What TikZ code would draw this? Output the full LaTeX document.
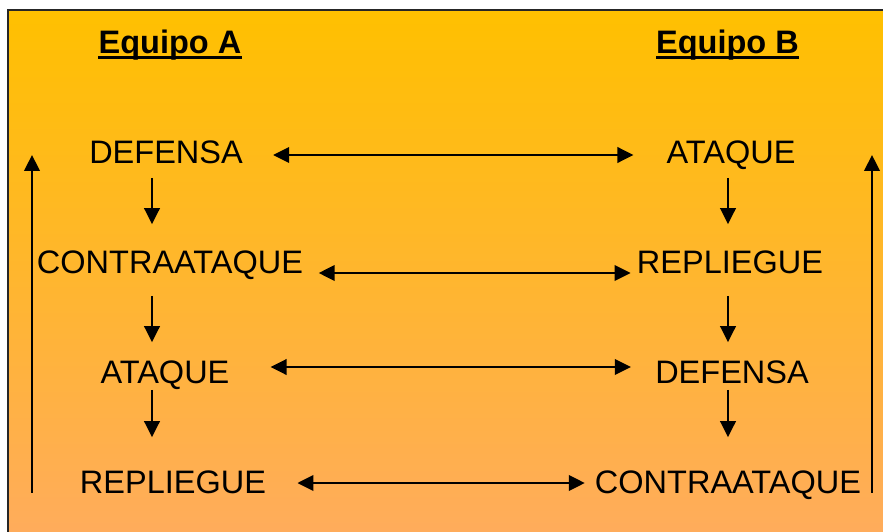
\documentclass[tikz,border=0pt]{standalone}
\usepackage{fontspec}
\setmainfont{Liberation Sans}
\usetikzlibrary{arrows.meta}

\definecolor{naranjaAlto}{RGB}{255,192,0}
\definecolor{naranjaBajo}{RGB}{255,172,92}

\begin{document}
\begin{tikzpicture}[x=1pt, y=1pt, node distance=110pt,
		>={Triangle[length=16pt,width=15.5pt]},
		etapa/.style={font=\fontsize{32.5}{38}\selectfont, inner sep=0pt, text height=23.3pt, text depth=0pt},
		equipo/.style={etapa, font=\fontsize{32.5}{38}\selectfont\bfseries},
		flecha/.style={->, line width=2.3pt},
		doble/.style={<->, line width=2.3pt}
		]
		\useasboundingbox (0,0) rectangle (883,531);
		\begin{scope}
		\clip (0,0) rectangle (883,531);
		\shade[top color=naranjaAlto, bottom color=naranjaBajo, draw=black!85, line width=2pt] (8,-5) rectangle (892,520.5);
		\end{scope}
		
		\node[equipo](tA) at (170,489){Equipo A};
		\node[equipo](tB) at (727.5,489){Equipo B};
		\draw[line width=3.3pt] ([yshift=-4pt]tA.south west) -- ([yshift=-4pt]tA.south east);
		\draw[line width=3.3pt] ([yshift=-4pt]tB.south west) -- ([yshift=-4pt]tB.south east);
		
		\node[etapa](dA) at (166,379){DEFENSA};
		\node[etapa, below of = dA, xshift = 4pt](cA){CONTRAATAQUE};
		\node[etapa, below of = cA, xshift = -5pt](aA){ATAQUE};
		\node[etapa, below of = aA, xshift = 8pt](rA){REPLIEGUE};
		
		\node[etapa](aB) at (731,379){ATAQUE};
		\node[etapa, below of = aB, xshift = -1pt](rB){REPLIEGUE};
		\node[etapa, below of = rB, xshift = 2pt](dB){DEFENSA};
		\node[etapa, below of = dB, xshift = -4pt](cB){CONTRAATAQUE};
		
		\coordinate (colA) at (152,0);
		\coordinate (colB) at (728,0);
		\coordinate (ladoA) at (32,0);
		\coordinate (ladoB) at (872,0);
		
		% secuencia de cada equipo
		\draw[flecha, shorten <=14pt, shorten >=26pt] (dA.south -| colA) -- (cA.north -| colA);
		\draw[flecha, shorten <=22pt, shorten >=18pt] (cA.south -| colA) -- (aA.north -| colA);
		\draw[flecha, shorten <=6pt, shorten >=33pt] (aA.south -| colA) -- (rA.north -| colA);
		\draw[flecha, shorten <=14pt, shorten >=26pt] (aB.south -| colB) -- (rB.north -| colB);
		\draw[flecha, shorten <=22pt, shorten >=18pt] (rB.south -| colB) -- (dB.north -| colB);
		\draw[flecha, shorten <=6pt, shorten >=33pt] (dB.south -| colB) -- (cB.north -| colB);
		\draw[flecha, shorten <=1pt, shorten >=3pt] (rA.south -| ladoA) -- (dA.center -| ladoA);
		\draw[flecha, shorten <=1pt, shorten >=3pt] (cB.south -| ladoB) -- (aB.center -| ladoB);
		
		% relacion entre equipos
		\draw[doble, shorten <=30.2pt, shorten >=33pt] ([yshift=-3pt]dA.east) -- ([yshift=-3pt]aB.west);
		\draw[doble, shorten <=15.5pt, shorten >=6.2pt] ([yshift=-11pt]cA.east) -- ([yshift=-11pt]rB.west);
		\draw[doble, shorten <=41pt, shorten >=24.2pt] ([yshift=5pt]aA.east) -- ([yshift=5pt]dB.west);
		\draw[doble, shorten <=31.2pt, shorten >=10pt] ([yshift=-1pt]rA.east) -- ([yshift=-1pt]cB.west);
	\end{tikzpicture}
\end{document}
